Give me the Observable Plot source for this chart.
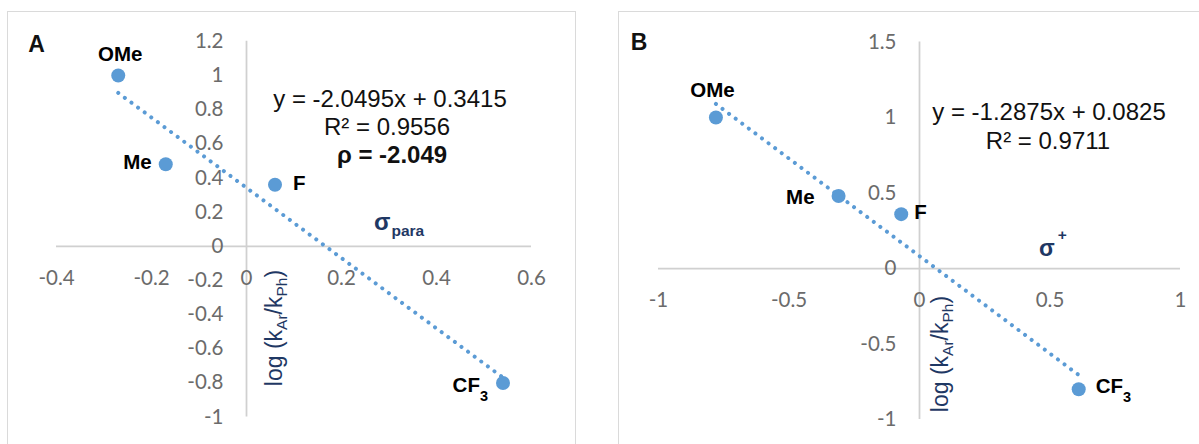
<!DOCTYPE html>
<html><head><meta charset="utf-8">
<script src="https://cdn.jsdelivr.net/npm/d3@7"></script>
<script src="https://cdn.jsdelivr.net/npm/@observablehq/plot@0.6"></script>
<style>
html,body{margin:0;padding:0;background:#fff;}
#page{position:relative;width:1199px;height:444px;overflow:hidden;background:#fff;}
.frame{position:absolute;box-sizing:border-box;border:1.5px solid #dadada;}
.plot{position:absolute;top:0;}
#ann{position:absolute;left:0;top:0;pointer-events:none;}
</style></head><body>
<div id="page">
  <div class="frame" style="left:7px;top:11px;width:569px;height:470px"></div>
  <div class="frame" style="left:618px;top:11px;width:620px;height:470px"></div>
  <div id="plotA" class="plot" style="left:0"></div>
  <div id="plotB" class="plot" style="left:600px"></div>
  <svg id="ann" width="1199" height="444" xmlns="http://www.w3.org/2000/svg">
    <g font-family="'Liberation Sans', Arial, sans-serif" fill="#111">
      <text x="36.5" y="52" text-anchor="middle" font-size="23" font-weight="bold">A</text>
      <text x="639" y="49.5" text-anchor="middle" font-size="23" font-weight="bold">B</text>
      <text x="390" y="106.6" text-anchor="middle" font-size="24">y = -2.0495x + 0.3415</text>
      <text x="387" y="134.6" text-anchor="middle" font-size="24">R² = 0.9556</text>
      <text x="392" y="162.6" text-anchor="middle" font-size="24" font-weight="bold">ρ = -2.049</text>
      <text x="1049" y="119.6" text-anchor="middle" font-size="24">y = -1.2875x + 0.0825</text>
      <text x="1048" y="148.6" text-anchor="middle" font-size="24">R² = 0.9711</text>
    </g>
    <g font-family="'Liberation Sans', Arial, sans-serif" fill="#1f3864">
      <text x="374" y="230" font-size="24" font-weight="bold">σ<tspan font-size="15.5" dx="1" dy="6">para</tspan></text>
      <text x="1039" y="256" font-size="23" font-weight="bold">σ<tspan font-size="15.5" dx="3" dy="-16">+</tspan></text>
      <text transform="translate(282,328) rotate(-90)" text-anchor="middle" font-size="23">log (k<tspan font-size="15.5" dy="5">Ar</tspan><tspan dy="-5">/k</tspan><tspan font-size="15.5" dy="5">Ph</tspan><tspan dy="-5">)</tspan></text>
      <text transform="translate(948,354) rotate(-90)" text-anchor="middle" font-size="23">log (k<tspan font-size="15.5" dy="5">Ar</tspan><tspan dy="-5">/k</tspan><tspan font-size="15.5" dy="5">Ph</tspan><tspan dy="-5">)</tspan></text>
    </g>
  </svg>
</div>
<script>
// ---- data ----
const substituents = ["OMe", "Me", "F", "CF3"];
const sigmaPara = [-0.27, -0.17, 0.06, 0.54];
const sigmaPlus = [-0.78, -0.31, -0.07, 0.61];
const logRatio = [1.00, 0.48, 0.36, -0.80];
const xTicksA = [-0.4, -0.2, 0, 0.2, 0.4, 0.6];
const yTicksA = [-1, -0.8, -0.6, -0.4, -0.2, 0, 0.2, 0.4, 0.6, 0.8, 1, 1.2];
const xTicksB = [-1, -0.5, 0, 0.5, 1];
const yTicksB = [-1, -0.5, 0, 0.5, 1, 1.5];

const dataA = substituents.map((name, i) => ({name, x: sigmaPara[i], y: logRatio[i]}));
const dataB = substituents.map((name, i) => ({name, x: sigmaPlus[i], y: logRatio[i]}));

const placeA = {
  OMe: {dx: 2, dy: -21, anchor: "middle"},
  Me: {dx: -14, dy: -2, anchor: "end"},
  F: {dx: 18, dy: -1, anchor: "start"},
  CF3: {dx: -15, dy: 3, anchor: "end"}
};
const placeB = {
  OMe: {dx: -3.5, dy: -27, anchor: "middle"},
  Me: {dx: -24, dy: 1, anchor: "end"},
  F: {dx: 13, dy: -2, anchor: "start"},
  CF3: {dx: 17, dy: -3, anchor: "start"}
};

function panel({data, xDomain, yDomain, xTicks, yTicks, width, margins, place}) {
  const tickFont = {fontFamily: "Lato, 'Open Sans', sans-serif", fontSize: 20.5, fill: "#6b6b6b"};
  const axisStyle = {stroke: "#d0d0d0", strokeWidth: 1.75};
  const marks = [
    Plot.ruleY([0], axisStyle),
    Plot.ruleX([0], axisStyle),
    Plot.text(xTicks, {x: d => d, y: () => 0, text: d => String(d), dy: 32, textAnchor: "middle", ...tickFont}),
    Plot.text(yTicks, {x: () => 0, y: d => d, text: d => String(d), dx: -23, textAnchor: "end", ...tickFont}),
    Plot.dot(data, {x: "x", y: "y", r: 7, fill: "#5b9bd5"}),
    Plot.linearRegressionY(data, {x: "x", y: "y", ci: 0, stroke: "#5b9bd5", strokeWidth: 4,
      strokeLinecap: "round", strokeDasharray: "0.01 8.2"}),
    ...data.map(d => {
      const p = place[d.name];
      return Plot.text([d], {x: "x", y: "y", text: "name", dx: p.dx, dy: p.dy, textAnchor: p.anchor,
        fontFamily: "'Liberation Sans', Arial, sans-serif", fontWeight: "bold", fontSize: 20.5, fill: "#000"});
    })
  ];
  const svg = Plot.plot({
    width, height: 444, ...margins,
    x: {domain: xDomain, axis: null},
    y: {domain: yDomain, axis: null},
    style: {background: "none", overflow: "visible"},
    marks
  });
  svg.querySelectorAll("text").forEach(t => {
    if (t.textContent === "CF3") {
      t.textContent = "CF";
      const ts = document.createElementNS("http://www.w3.org/2000/svg", "tspan");
      ts.setAttribute("font-size", "14.5");
      ts.setAttribute("dy", "9");
      ts.textContent = "3";
      t.appendChild(ts);
    }
  });
  return svg;
}

document.getElementById("plotA").appendChild(panel({
  data: dataA, xDomain: [-0.4, 0.6], yDomain: [-1, 1.2], xTicks: xTicksA, yTicks: yTicksA,
  width: 600, margins: {marginLeft: 56, marginRight: 69, marginTop: 40.8, marginBottom: 27.4}, place: placeA
}));
document.getElementById("plotB").appendChild(panel({
  data: dataB, xDomain: [-1, 1], yDomain: [-1, 1.5], xTicks: xTicksB, yTicks: yTicksB,
  width: 599, margins: {marginLeft: 58, marginRight: 19, marginTop: 41.5, marginBottom: 25}, place: placeB
}));
</script>
</body></html>
